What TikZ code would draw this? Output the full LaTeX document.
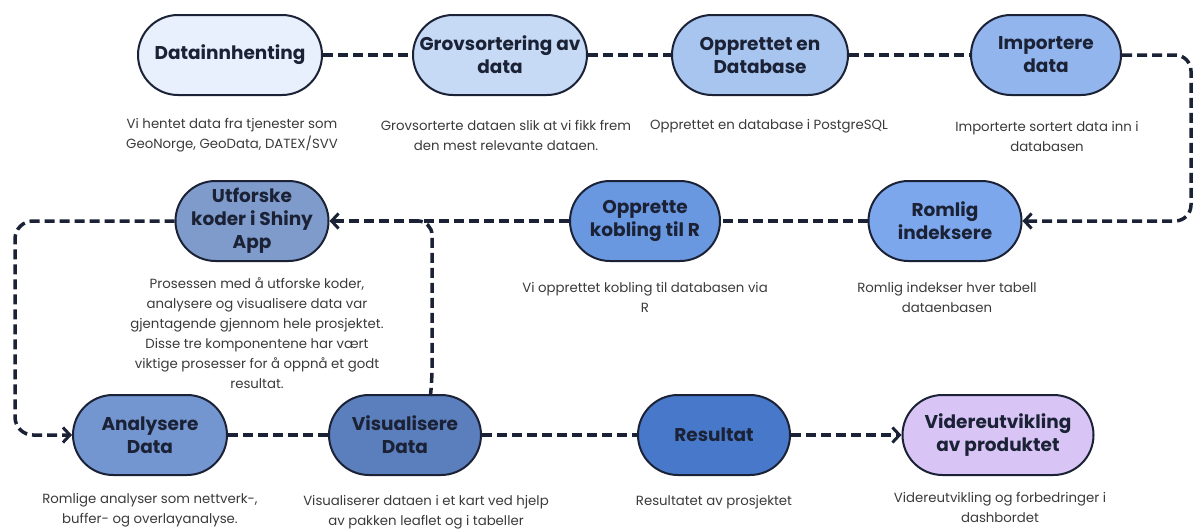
\documentclass[tikz,border=0pt]{standalone}
\usepackage{fontspec}
\setmainfont{Poppins}
\usetikzlibrary{arrows.meta}
\definecolor{edge}{HTML}{1B2236}
\definecolor{desc}{HTML}{3A3A3A}
\definecolor{fillA}{HTML}{E8F0FD}
\definecolor{fillB}{HTML}{C6D9F5}
\definecolor{fillC}{HTML}{A8C5F0}
\definecolor{fillD}{HTML}{93B5EE}
\definecolor{fillE}{HTML}{7DA7EC}
\definecolor{fillF}{HTML}{6A98E0}
\definecolor{fillG}{HTML}{7F9BCB}
\definecolor{fillH}{HTML}{7395D0}
\definecolor{fillI}{HTML}{5B7EBC}
\definecolor{fillJ}{HTML}{4878C9}
\definecolor{fillK}{HTML}{D8C5F6}
\begin{document}
\begin{tikzpicture}[x=1pt,y=-1pt,
        box/.style={draw=edge,line width=2pt,rounded corners=40pt,minimum height=80pt,inner sep=2pt,align=center,text=edge,font=\fontsize{18.5}{23}\selectfont\bfseries},
        txt/.style={align=center,text=desc,inner sep=0pt,font=\fontsize{13.3}{20}\selectfont},
        link/.style={draw=edge,line width=3.5pt,dash pattern=on 10pt off 5pt},
        ahead/.style={-{Straight Barb[length=7pt,width=15pt,line width=3pt]}}]
        \useasboundingbox (0,0) rectangle (1194,530);
        \node [box,fill=fillA,minimum width=184pt] (dat) at (230,55) {Datainnhenting};
        \node [box,fill=fillB,minimum width=174pt] (grv) at (500,55) {Grovsortering av\\data};
        \node [box,fill=fillC,minimum width=176pt] (opd) at (760,55) {Opprettet en\\Database};
        \node [box,fill=fillD,minimum width=150pt] (imp) at (1046,55) {Importere\\data};
        \node [box,fill=fillE,minimum width=153pt] (rom) at (945,221) {Romlig\\indeksere};
        \node [box,fill=fillF,minimum width=150pt] (kob) at (645,221) {Opprette\\kobling til R};
        \node [box,fill=fillG,minimum width=153pt] (utf) at (252,221) {Utforske\\koder i Shiny\\App};
        \node [box,fill=fillH,minimum width=154pt] (ana) at (150,435) {Analysere\\Data};
        \node [box,fill=fillI,minimum width=152pt] (vis) at (405,435) {Visualisere\\Data};
        \node [box,fill=fillJ,minimum width=152pt] (res) at (714,435) {Resultat};
        \node [box,fill=fillK,minimum width=191pt] (vid) at (998,435) {Videreutvikling\\av produktet};
        \node [txt] (d1) at (232,135) {Vi hentet data fra tjenester som\\GeoNorge, GeoData, DATEX/SVV};
        \node [txt] (d2) at (506,135) {Grovsorterte dataen slik at vi fikk frem\\den mest relevante dataen.};
        \node [txt] (d3) at (769,126) {Opprettet en database i PostgreSQL};
        \node [txt] (d4) at (1047,136) {Importerte sortert data inn i\\databasen};
        \node [txt] (d5) at (947,297) {Romlig indekser hver tabell\\dataenbasen};
        \node [txt] (d6) at (645,297) {Vi opprettet kobling til databasen via\\R};
        \node [txt] (d7) at (257,333) {Prosessen med å utforske koder,\\analysere og visualisere data var\\gjentagende gjennom hele prosjektet.\\Disse tre komponentene har vært\\viktige prosesser for å oppnå et godt\\resultat.};
        \node [txt] (d8) at (150,510) {Romlige analyser som nettverk-,\\buffer- og overlayanalyse.};
        \node [txt] (d9) at (426,512) {Visualiserer dataen i et kart ved hjelp\\av pakken leaflet og i tabeller};
        \node [txt] (d10) at (714,502) {Resultatet av prosjektet};
        \node [txt] (d11) at (1000,507) {Videreutvikling og forbedringer i\\dashbordet};
        \coordinate (jn) at (412,221);
        \draw [link] (dat) -- (grv);
        \draw [link] (grv) -- (opd);
        \draw [link] (opd) -- (imp);
        \draw [link,ahead,rounded corners=16pt] (imp.east) -- (1191,55) -- (1191,221) -- (rom.east);
        \draw [link] (rom) -- (kob);
        \draw [link,ahead] (kob) -- (utf);
        \draw [link,rounded corners=14pt] (vis.58) -- (432,382) -- (432,221) -- (jn);
        \draw [link,ahead,rounded corners=18pt] (utf.west) -- (15,221) -- (15,435) -- (ana.west);
        \draw [link] (ana) -- (vis);
        \draw [link] (vis) -- (res);
        \draw [link,ahead] (res) -- (vid);
\end{tikzpicture}
\end{document}
